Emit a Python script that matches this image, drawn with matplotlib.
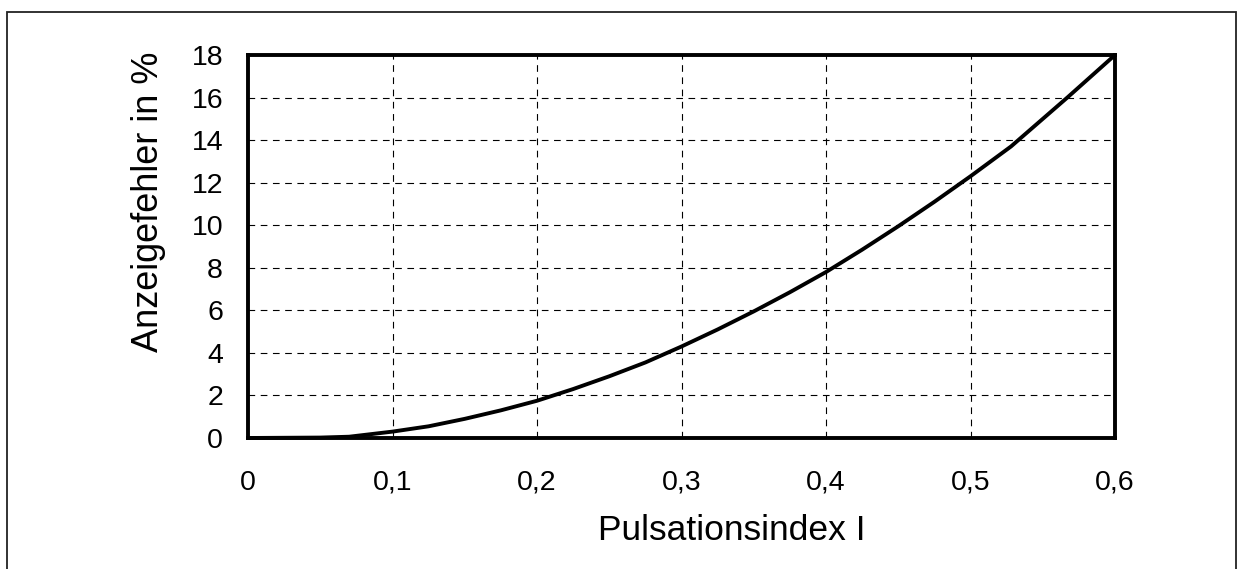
import matplotlib
matplotlib.use("Agg")
import matplotlib.pyplot as plt
import matplotlib.patches as patches
from matplotlib.ticker import FuncFormatter

# Data
pulsation_index = [0.0, 0.05, 0.07, 0.1, 0.125, 0.15, 0.175, 0.2, 0.225, 0.25, 0.275,
                   0.3, 0.325, 0.35, 0.375, 0.4, 0.425, 0.45, 0.475, 0.5, 0.528,
                   0.567, 0.6]
display_error = [0.0, 0.02, 0.06, 0.3, 0.55, 0.9, 1.3, 1.75, 2.3, 2.9, 3.55,
                 4.3, 5.1, 5.95, 6.85, 7.8, 8.85, 9.95, 11.1, 12.3, 13.7,
                 16.0, 18.0]

x_ticks = [0, 0.1, 0.2, 0.3, 0.4, 0.5, 0.6]
y_ticks = [0, 2, 4, 6, 8, 10, 12, 14, 16, 18]

plt.rcParams["font.family"] = ["Liberation Sans", "DejaVu Sans"]

fig = plt.figure(figsize=(12.42, 5.69), dpi=100, facecolor="white")
ax = fig.add_axes([248 / 1242, 1 - 438 / 569, (1115 - 248) / 1242, (438 - 55) / 569])

# outer frame of the scanned figure (bottom edge cut off)
fig.patches.append(patches.Rectangle(
    (7 / 1242, -0.05), (1236 - 7) / 1242, 1.05 - 12 / 569,
    transform=fig.transFigure, facecolor="none", edgecolor="#222222",
    linewidth=1.3, zorder=0))

ax.plot(pulsation_index, display_error, color="black", linewidth=2.8,
        solid_joinstyle="round", solid_capstyle="round", zorder=3, clip_on=False)

ax.set_xlim(0, 0.6)
ax.set_ylim(0, 18)
ax.set_xticks(x_ticks)
ax.set_yticks(y_ticks)
ax.xaxis.set_major_formatter(FuncFormatter(
    lambda v, p: "0" if v == 0 else f"{v:.1f}".replace(".", ",")))
ax.tick_params(length=0, labelsize=20.5, colors="black")
ax.tick_params(axis="y", pad=18)
ax.tick_params(axis="x", pad=23)

ax.grid(True, color="black", linestyle=(0, (6, 5)), linewidth=0.8)
for spine in ax.spines.values():
    spine.set_linewidth(2.8)
    spine.set_color("black")

fig.text(732 / 1242, 1 - 530 / 569, "Pulsationsindex I", fontsize=25.5,
         ha="center", va="center")
fig.text(149 / 1242, 1 - 202 / 569, "Anzeigefehler in %", fontsize=26,
         ha="center", va="center", rotation=90)

fig.savefig("out.png", dpi=100, facecolor="white")
